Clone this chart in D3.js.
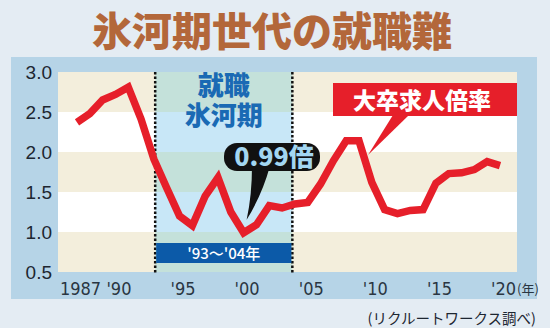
<!DOCTYPE html>
<html><head><meta charset="utf-8">
<script src="https://cdn.jsdelivr.net/npm/d3@7"></script>
<style>
html,body{margin:0;padding:0;background:#e4ecf3;}
svg{display:block;}
</style></head>
<body>
<svg id="c" width="550" height="328"></svg>
<script>
// ---- data ----
const years = [1987,1988,1989,1990,1991,1992,1993,1994,1995,1996,1997,1998,1999,2000,2001,2002,2003,2004,2005,2006,2007,2008,2009,2010,2011,2012,2013,2014,2015,2016,2017,2018,2019,2020];
const ratio = [2.37,2.48,2.65,2.72,2.81,2.41,1.91,1.55,1.20,1.08,1.45,1.68,1.25,0.99,1.09,1.33,1.30,1.35,1.37,1.60,1.89,2.14,2.14,1.62,1.28,1.23,1.27,1.28,1.61,1.73,1.74,1.78,1.88,1.83];
const xTickValues = [1987,1990,1995,2000,2005,2010,2015,2020];
const xTickLabels = ["1987","'90","'95","'00","'05","'10","'15","'20"];
const yTickValues = [0.5,1.0,1.5,2.0,2.5,3.0];
const iceAge = [1993.1, 2003.8];
const title = "氷河期世代の就職難";
const seriesName = "大卒求人倍率";
const iceLabel = ["就職","氷河期"];
const iceRangeLabel = "'93〜'04年";
const minLabel = "0.99倍";
const source = "(リクルートワークス調べ)";

// ---- layout ----
const svg = d3.select("#c");
const plot = {l:58, r:517, t:72, b:272};
const x = d3.scaleLinear().domain([1987,2020]).range([77,500]);
const y = d3.scaleLinear().domain([0.5,3.0]).range([plot.b, plot.t]);
const CJK = "'Noto Sans CJK JP','Noto Sans CJK SC',sans-serif";

svg.append("rect").attr("width",550).attr("height",328).attr("fill","#e4ecf3");
// title
svg.append("text").attr("x",272).attr("y",46).attr("text-anchor","middle")
  .attr("font-family",CJK).attr("font-weight",900).attr("font-size",40)
  .attr("fill","#b3673a").text(title);
// panel
svg.append("rect").attr("x",11).attr("y",57).attr("width",526).attr("height",242).attr("fill","#b6d4e7");

// bands
const bands = d3.pairs(yTickValues).reverse(); // top first
bands.forEach((b,i)=>{
  const beige = i%2===0;
  svg.append("rect").attr("x",plot.l).attr("y",y(b[1])).attr("width",plot.r-plot.l)
    .attr("height",y(b[0])-y(b[1])).attr("fill",beige?"#f3eedc":"#ffffff");
  svg.append("rect").attr("x",x(iceAge[0])).attr("y",y(b[1])).attr("width",x(iceAge[1])-x(iceAge[0]))
    .attr("height",y(b[0])-y(b[1])).attr("fill",beige?"#c4e1da":"#c8e7f7");
});

// dotted boundaries
iceAge.forEach(v=>{
  svg.append("line").attr("x1",x(v)).attr("x2",x(v)).attr("y1",plot.t).attr("y2",plot.b+2)
    .attr("stroke","#111").attr("stroke-width",2.5).attr("stroke-dasharray","2.5,2");
});

// ice age labels (one text, two lines)
const cx = (x(iceAge[0])+x(iceAge[1]))/2;
const iceText = svg.append("text").attr("text-anchor","middle")
  .attr("font-family",CJK).attr("font-weight",900).attr("font-size",26)
  .attr("fill","#1a6ab4");
iceLabel.forEach((t,i)=>{
  iceText.append("tspan").attr("x",cx).attr("y",95+i*30).text(t);
});
svg.append("rect").attr("x",x(iceAge[0])+1).attr("y",243).attr("width",x(iceAge[1])-x(iceAge[0])-2)
  .attr("height",20).attr("fill","#0c5aa8");
svg.append("text").attr("x",cx).attr("y",259).attr("text-anchor","middle")
  .attr("font-family",CJK).attr("font-weight",500).attr("font-size",15)
  .attr("fill","#fff").text(iceRangeLabel);

// axes
const yAxis = d3.axisLeft(y).tickValues(yTickValues).tickSize(0).tickPadding(6).tickFormat(d3.format(".1f"));
const gy = svg.append("g").attr("transform",`translate(${plot.l},0)`).call(yAxis);
gy.select(".domain").remove();
gy.selectAll("text").attr("font-family","'Liberation Sans',Arial,sans-serif").attr("font-size",19).attr("fill","#1d2631");

const xAxis = d3.axisBottom(x).tickValues(xTickValues).tickSize(0).tickFormat((d,i)=>xTickLabels[i]);
const gx = svg.append("g").attr("transform",`translate(0,${plot.b})`).call(xAxis);
gx.select(".domain").remove();
gx.selectAll("text").attr("y",23).attr("dy",0).attr("dx",3)
  .attr("font-family","'Liberation Sans Narrow','DejaVu Sans Condensed',sans-serif").attr("font-size",18).attr("fill","#2a3642");
svg.append("text").attr("x",517).attr("y",294).attr("font-family",CJK).attr("font-size",13)
  .attr("fill","#2a3642").text("(年)");

// line
const line = d3.line().x((d,i)=>x(years[i])).y(d=>y(d));
svg.append("path").datum(ratio).attr("d",line).attr("fill","none")
  .attr("stroke","#e61f2a").attr("stroke-width",7.5).attr("stroke-linejoin","miter");

// series label box
svg.append("path").attr("d","M393,115 L409,115 L368,155 Z").attr("fill","#e61f2a");
svg.append("rect").attr("x",333).attr("y",83).attr("width",plot.r-333).attr("height",33).attr("fill","#e61f2a");
svg.append("text").attr("x",422).attr("y",109).attr("text-anchor","middle")
  .attr("font-family",CJK).attr("font-weight",900).attr("font-size",23)
  .attr("fill","#fff").text(seriesName);

// min bubble
const minIdx = ratio.indexOf(d3.min(ratio));
const tipX = x(years[minIdx])+3, tipY = y(ratio[minIdx])-13;
svg.append("path").attr("d",`M252,166 Q252,195 ${tipX},${tipY} Q262,195 270,166 Z`).attr("fill","#111");
svg.append("rect").attr("x",224).attr("y",143).attr("width",96).attr("height",28).attr("rx",13).attr("fill","#111");
svg.append("text").attr("x",274).attr("y",166).attr("text-anchor","middle")
  .attr("font-family",CJK).attr("font-weight",900).attr("font-size",25)
  .attr("fill","#a3d6f1").text(minLabel);

// source
svg.append("text").attr("x",536).attr("y",324).attr("text-anchor","end")
  .attr("font-family",CJK).attr("font-size",14.5).attr("fill","#1d2631").text(source);
</script>
</body></html>
